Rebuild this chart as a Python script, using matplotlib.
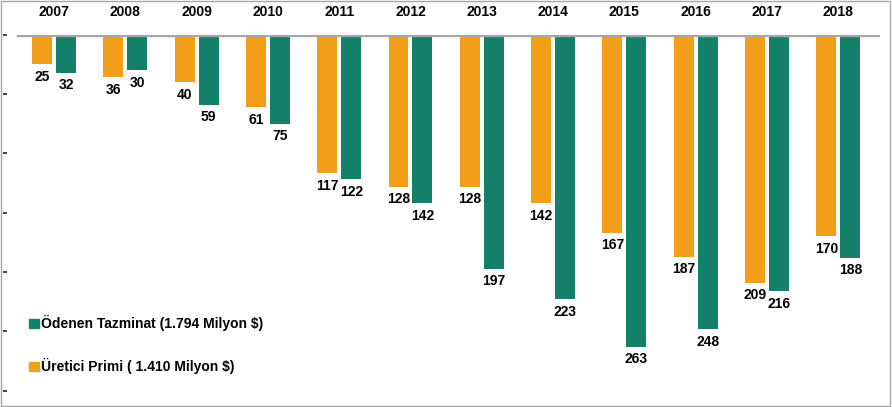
#!/usr/bin/env python3
import numpy as np
import matplotlib
matplotlib.use("Agg")
import matplotlib.pyplot as plt
from matplotlib.patches import Rectangle, Patch


YEARS = ["2007", "2008", "2009", "2010", "2011", "2012",
         "2013", "2014", "2015", "2016", "2017", "2018"]

PRIM = [25, 36, 40, 61, 117, 128, 128, 142, 167, 187, 209, 170]
TAZMINAT = [32, 30, 59, 75, 122, 142, 197, 223, 263, 248, 216, 188]

LABEL_PRIM = "Üretici Primi ( 1.410 Milyon $)"
LABEL_TAZMINAT = "Ödenen Tazminat (1.794 Milyon $)"

ORANGE = "#F39E18"
GREEN = "#14806A"
GRID_GRAY = "#A6A6A6"


def main():
    plt.rcParams["font.family"] = ["Liberation Sans", "DejaVu Sans"]
    plt.rcParams["font.weight"] = "bold"

    fig = plt.figure(figsize=(8.92, 4.07), dpi=100)
    # axes spans the plot area, value 0 at the top edge (bars hang down)
    ax = fig.add_axes([7 / 892, 7 / 407, 873 / 892, (400 - 34.5) / 407])

    x = np.arange(len(YEARS))
    w = 0.28
    off = 0.168

    ax.bar(x - off, PRIM, width=w, color=ORANGE, zorder=2)
    ax.bar(x + off, TAZMINAT, width=w, color=GREEN, zorder=2)

    ax.set_xlim(-0.659, 11.585)
    ax.set_ylim(307.7, 0)

    ax.axhline(0, xmin=11 / 873, xmax=1.0, color=GRID_GRAY, lw=2.4, zorder=3)

    for xi, v in zip(x - off, PRIM):
        ax.annotate(str(v), (xi, v), xytext=(0, -4), textcoords="offset points",
                    ha="center", va="top", fontsize=10, fontweight="bold")
    for xi, v in zip(x + off, TAZMINAT):
        ax.annotate(str(v), (xi, v), xytext=(0, -4), textcoords="offset points",
                    ha="center", va="top", fontsize=10, fontweight="bold")

    for xi, yr in zip(x, YEARS):
        ax.annotate(yr, (xi, 0), xytext=(0, 16), textcoords="offset points",
                    ha="center", va="center", fontsize=10, fontweight="bold",
                    annotation_clip=False)

    for side in ["top", "right", "bottom", "left"]:
        ax.spines[side].set_visible(False)
    ax.set_xticks([])
    ax.set_yticks(np.arange(0, 301, 50))
    ax.set_yticklabels([])
    ax.tick_params(axis="y", direction="out", length=3, width=1.2, color="#222222")
    ax.patch.set_alpha(0)

    handles = [Patch(color=GREEN), Patch(color=ORANGE)]
    fig.legend(handles, [LABEL_TAZMINAT, LABEL_PRIM],
               loc="upper left", bbox_to_anchor=(29 / 892, 1 - 315 / 407),
               frameon=False, fontsize=10, handlelength=0.72, handleheight=0.65,
               handletextpad=0.15, labelspacing=1.95, borderpad=0, borderaxespad=0,
               prop={"weight": "bold", "size": 10})

    fig.patches.append(Rectangle((0.001, 0.002), 0.997, 0.995, transform=fig.transFigure,
                                 fill=False, edgecolor=GRID_GRAY, lw=1))

    fig.savefig("out.png", dpi=100)
    plt.close(fig)


if __name__ == "__main__":
    main()
